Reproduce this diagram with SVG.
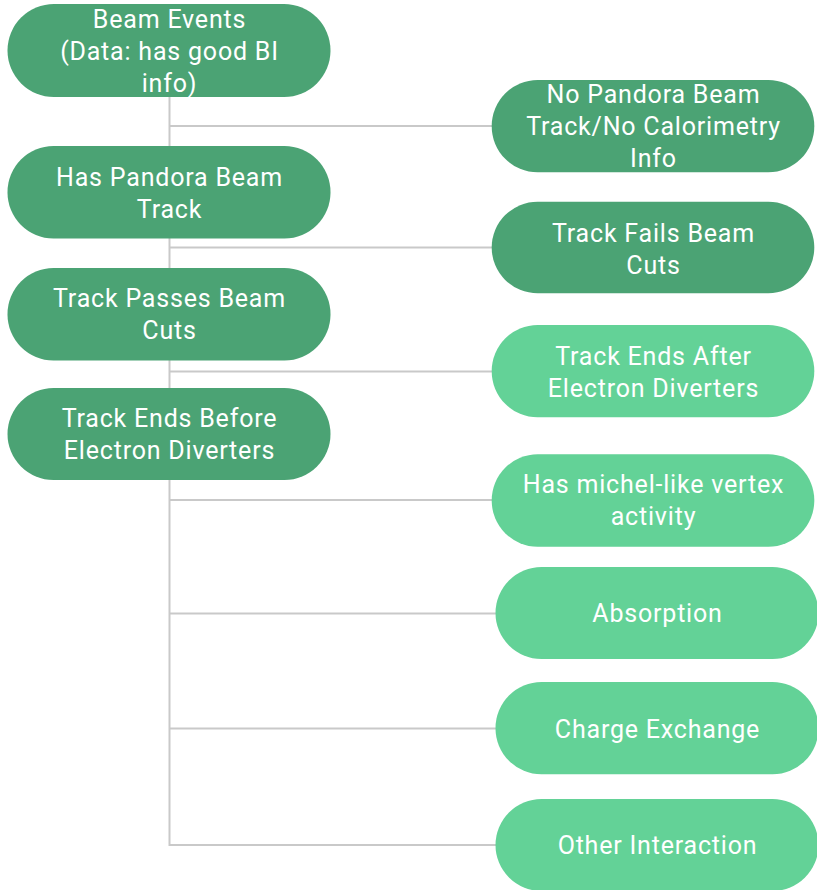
<svg xmlns="http://www.w3.org/2000/svg" width="817" height="890" viewBox="0 0 817 890">
<style>
.dk{fill:#4ba374}
.lt{fill:#63d297}
.t{font-family:Roboto,"Liberation Sans",sans-serif;font-size:25px;letter-spacing:0.8px;fill:#ffffff;text-anchor:middle}
.c{stroke:#c9c9c9;stroke-width:2;fill:none}
</style>
<rect width="817" height="890" fill="#ffffff"/>
<g id="connectors">
<path class="c" d="M169.5 97V846"/>
<path class="c" d="M169.5 126H492"/>
<path class="c" d="M169.5 247.5H492"/>
<path class="c" d="M169.5 371.5H492"/>
<path class="c" d="M169.5 500H492"/>
<path class="c" d="M169.5 613.5H496"/>
<path class="c" d="M169.5 728.5H496"/>
<path class="c" d="M169.5 845H496"/>
</g>
<g id="beam-events">
<rect class="dk" x="7.5" y="4" width="323" height="93" rx="46.5"/>
<text class="t" x="169.5" y="28">Beam Events</text>
<text class="t" x="169.5" y="60">(Data: has good BI</text>
<text class="t" x="169.5" y="92">info)</text>
</g>
<g id="has-pandora">
<rect class="dk" x="7.5" y="146" width="323" height="92.5" rx="46"/>
<text class="t" x="169.5" y="186">Has Pandora Beam</text>
<text class="t" x="169.5" y="218">Track</text>
</g>
<g id="track-passes">
<rect class="dk" x="7.5" y="268" width="323" height="92.5" rx="46"/>
<text class="t" x="169.5" y="307">Track Passes Beam</text>
<text class="t" x="169.5" y="339">Cuts</text>
</g>
<g id="track-ends-before">
<rect class="dk" x="7.5" y="388" width="323" height="92" rx="46"/>
<text class="t" x="169.5" y="427">Track Ends Before</text>
<text class="t" x="169.5" y="459">Electron Diverters</text>
</g>
<g id="no-pandora">
<rect class="dk" x="491.7" y="80" width="322.6" height="92.3" rx="46"/>
<text class="t" x="653.5" y="103">No Pandora Beam</text>
<text class="t" x="653.5" y="135">Track/No Calorimetry</text>
<text class="t" x="653.5" y="167">Info</text>
</g>
<g id="track-fails">
<rect class="dk" x="491.7" y="201.7" width="322.6" height="91.6" rx="46"/>
<text class="t" x="653.5" y="242">Track Fails Beam</text>
<text class="t" x="653.5" y="274">Cuts</text>
</g>
<g id="track-ends-after">
<rect class="lt" x="491.7" y="325" width="322.6" height="92.3" rx="46"/>
<text class="t" x="653.5" y="365">Track Ends After</text>
<text class="t" x="653.5" y="397">Electron Diverters</text>
</g>
<g id="michel">
<rect class="lt" x="491.7" y="454.3" width="322.6" height="92.4" rx="46"/>
<text class="t" x="653.5" y="493">Has michel-like vertex</text>
<text class="t" x="653.5" y="525">activity</text>
</g>
<g id="absorption">
<rect class="lt" x="495.5" y="567" width="323" height="92" rx="46"/>
<text class="t" x="657.5" y="622">Absorption</text>
</g>
<g id="charge-exchange">
<rect class="lt" x="495.5" y="682" width="323" height="92.3" rx="46"/>
<text class="t" x="657.5" y="738">Charge Exchange</text>
</g>
<g id="other-interaction">
<rect class="lt" x="495.5" y="799" width="323" height="92" rx="46"/>
<text class="t" x="657.5" y="854">Other Interaction</text>
</g>
</svg>
